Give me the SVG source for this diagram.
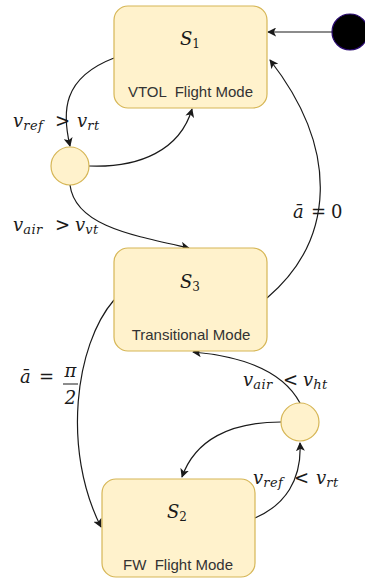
<svg xmlns="http://www.w3.org/2000/svg" width="365" height="583" viewBox="0 0 365 583">
  <style>
    .state { fill: #fff2cc; stroke: #d6b656; stroke-width: 1.2; }
    .title { font-family: "DejaVu Serif", "Liberation Serif", serif; font-style: italic; font-size: 18px; fill: #1a1a1a; text-anchor: middle; }
    .title .s { font-size: 12px; font-style: normal; }
    .sub { font-family: "Liberation Sans", Arial, sans-serif; font-size: 15px; fill: #333333; text-anchor: middle; white-space: pre; }
    .edge { fill: none; stroke: #1a1a1a; stroke-width: 1.2; marker-end: url(#arrow); }
    .m { font-family: "DejaVu Serif", "Liberation Serif", serif; font-style: italic; font-size: 18px; fill: #1a1a1a; }
    .m .s { font-size: 13px; letter-spacing: 0.5px; }
    .m .r { font-style: normal; }
  </style>
  <defs>
    <marker id="arrow" viewBox="0 0 10 10" refX="9" refY="5" markerWidth="9" markerHeight="9" markerUnits="userSpaceOnUse" orient="auto">
      <path d="M0,0 L10,5 L0,10 L2.5,5 z" fill="#1a1a1a"/>
    </marker>
  </defs>

  <!-- connectors -->
  <g id="connectors">
    <path class="edge" d="M332,32 L268,32"/>
    <path class="edge" d="M114,58 C 62,78 62,112 70,146"/>
    <path class="edge" d="M89,166 C 140,168 180,150 192,109"/>
    <path class="edge" d="M70,185 C 75,225 130,235 189,248"/>
    <path class="edge" d="M267,298 C 335,240 340,150 270,60"/>
    <path class="edge" d="M114,300 C 75,345 62,450 101,527"/>
    <path class="edge" d="M255,518 C 285,505 302,480 300,443"/>
    <path class="edge" d="M281,422 C 230,422 195,440 182,477"/>
    <path class="edge" d="M300,403 C 285,375 250,357 193,352"/>
  </g>

  <!-- start marker -->
  <g id="start">
    <circle cx="350" cy="32" r="18" fill="#000000" stroke="#2a0a70" stroke-width="1.2"/>
  </g>

  <!-- states -->
  <g id="s1">
    <rect class="state" x="114" y="6" width="153" height="102" rx="14"/>
    <text class="title" x="190" y="45">S<tspan class="s" dy="3">1</tspan></text>
    <text class="sub" x="190.5" y="97" xml:space="preserve">VTOL  Flight Mode</text>
  </g>
  <g id="s3">
    <rect class="state" x="114" y="248" width="153" height="103" rx="14"/>
    <text class="title" x="190" y="288">S<tspan class="s" dy="3">3</tspan></text>
    <text class="sub" x="191" y="340">Transitional Mode</text>
  </g>
  <g id="s2">
    <rect class="state" x="102" y="479" width="153" height="98" rx="14"/>
    <text class="title" x="177" y="518">S<tspan class="s" dy="3">2</tspan></text>
    <text class="sub" x="178" y="570" xml:space="preserve">FW  Flight Mode</text>
  </g>

  <!-- choice points -->
  <g id="c1">
    <circle class="state" cx="70" cy="166" r="19"/>
  </g>
  <g id="c2">
    <circle class="state" cx="300" cy="422" r="19"/>
  </g>

  <!-- transition conditions -->
  <g id="labels">
    <text class="m" y="127"><tspan x="13">v</tspan><tspan class="s" dy="3">ref</tspan><tspan class="r" x="55" dy="-3">&gt;</tspan><tspan x="77">v</tspan><tspan class="s" dy="3">rt</tspan></text>
    <text class="m" y="231"><tspan x="13">v</tspan><tspan class="s" dy="3">air</tspan><tspan class="r" x="55" dy="-3">&gt;</tspan><tspan x="75">v</tspan><tspan class="s" dy="3">vt</tspan></text>
    <text class="m" y="386"><tspan x="243">v</tspan><tspan class="s" dy="3">air</tspan><tspan class="r" x="283" dy="-3">&lt;</tspan><tspan x="303">v</tspan><tspan class="s" dy="3">ht</tspan></text>
    <text class="m" y="484"><tspan x="253">v</tspan><tspan class="s" dy="3">ref</tspan><tspan class="r" x="294" dy="-3">&lt;</tspan><tspan x="316">v</tspan><tspan class="s" dy="3">rt</tspan></text>
    <text class="m" y="218"><tspan x="293">ā</tspan><tspan class="r" x="311">=</tspan><tspan class="r" x="331">0</tspan></text>
    <text class="m" y="383"><tspan x="20">ā</tspan><tspan class="r" x="39">=</tspan></text>
    <text class="m" x="70.5" y="377" text-anchor="middle">π</text>
    <line x1="63" y1="384" x2="78" y2="384" stroke="#1a1a1a" stroke-width="1"/>
    <text class="m" x="70.5" y="404" text-anchor="middle" font-style="normal">2</text>
  </g>
</svg>
